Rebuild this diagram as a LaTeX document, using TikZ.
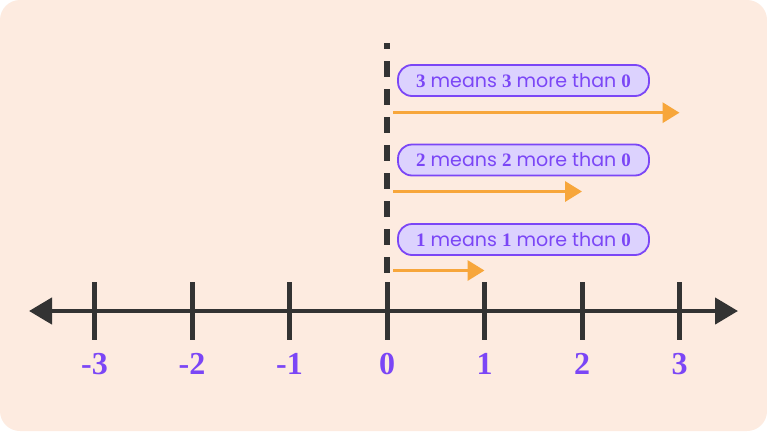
\documentclass[tikz,border=0pt]{standalone}
\usepackage{fontspec}
\setmainfont{Poppins}
\newfontfamily\numfont{Liberation Serif}
\usetikzlibrary{arrows.meta,positioning}
\definecolor{paper}{HTML}{FDEBE0}
\definecolor{ink}{HTML}{333333}
\definecolor{numpurple}{HTML}{7B46F6}
\definecolor{tagfill}{HTML}{DCD2FE}
\definecolor{jumporange}{HTML}{F7A63B}
\newcommand{\dg}[1]{{\numfont\bfseries #1}}
\tikzset{
	axis/.style={draw=ink,line width=4.5pt,{Triangle[length=23pt,width=26pt]}-{Triangle[length=23pt,width=26pt]}},
	tick/.style={draw=ink,line width=5pt},
	zero/.style={draw=ink,line width=6pt,dash pattern=on 16pt off 12pt,dash phase=10pt},
	num/.style={text=numpurple,font=\numfont\bfseries\fontsize{32}{32}\selectfont},
	tag/.style={draw=numpurple,fill=tagfill,line width=1.8pt,rounded corners=14pt,
		minimum width=251pt,minimum height=31pt,inner sep=0pt,text=numpurple,
		font=\fontsize{19}{19}\selectfont},
	jump/.style={draw=jumporange,line width=3.3pt,-{Triangle[length=17pt,width=20pt]}}
}

\begin{document}
\begin{tikzpicture}[x=1pt,y=-1pt]
            \fill[white] (0,0) rectangle (767,431);
            \fill[paper,rounded corners=20pt] (0,0) rectangle (767,431);
            \useasboundingbox (0,0) rectangle (767,431);
            \coordinate (left) at (29,311);
            \coordinate (right) at (738,311);
            \draw[axis] (left) -- (right);
            \foreach \n [count=\i from 0] in {-3,-2,-1,0,1,2,3} {
                \coordinate (t\i) at (94.5+97.5*\i,311);
                \draw[tick] ([yshift=29pt]t\i) -- ([yshift=-29pt]t\i);
                \node[num] (n\i) at (94.5+97.5*\i,364) {\n};
            }
            \coordinate (top) at (387,43);
            \coordinate (foot) at (387,275);
            \draw[zero] (top) -- (foot);
            \node[tag] (tag3) at (523.5,80.5) {\dg{3} means \dg{3} more than \dg{0}};
            \node[tag] (tag2) at (523.5,160) {\dg{2} means \dg{2} more than \dg{0}};
            \node[tag] (tag1) at (523.5,239.5) {\dg{1} means \dg{1} more than \dg{0}};
            \coordinate (s3) at (393,112.7);
            \coordinate (s2) at (393,191.5);
            \coordinate (s1) at (393,270.5);
            \draw[jump] (s3) -- (s3 -| t6);
            \draw[jump] (s2) -- (s2 -| t5);
            \draw[jump] (s1) -- (s1 -| t4);
        \end{tikzpicture}
\end{document}
